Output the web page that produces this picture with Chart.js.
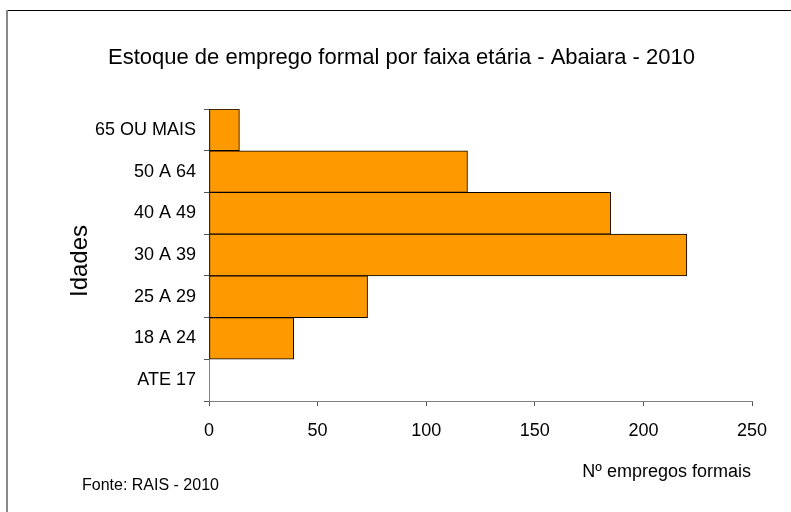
<!DOCTYPE html>
<html>
<head>
<meta charset="utf-8">
<script src="https://cdn.jsdelivr.net/npm/chart.js@4.4.1/dist/chart.umd.min.js"></script>
<style>
  html, body { margin: 0; padding: 0; background: #fff; }
  #wrap { width: 791px; height: 512px; }
</style>
</head>
<body>
<div id="wrap"><canvas id="chart" width="791" height="512"></canvas></div>
<script>
const faixas = ['65 OU MAIS', '50 A 64', '40 A 49', '30 A 39', '25 A 29', '18 A 24', 'ATE 17'];
const empregos = [14, 119, 185, 220, 73, 39, 0];
const xTicks = [0, 50, 100, 150, 200, 250];

const titulo = 'Estoque de emprego formal por faixa etária - Abaiara - 2010';
const tituloX = 'Nº empregos formais';
const tituloY = 'Idades';
const fonte = 'Fonte: RAIS - 2010';

const FONT = '"Liberation Sans", Arial, sans-serif';

// frame + axis titles + source note
const extras = {
  id: 'extras',
  afterDraw(chart) {
    const ctx = chart.ctx;
    const area = chart.chartArea;
    ctx.save();
    ctx.lineWidth = 1;
    ctx.strokeStyle = '#000';
    ctx.beginPath();
    ctx.moveTo(7, 10.5);
    ctx.lineTo(791, 10.5);
    ctx.stroke();
    ctx.strokeStyle = '#888';
    ctx.lineWidth = 2;
    ctx.beginPath();
    ctx.moveTo(7, 10);
    ctx.lineTo(7, 512);
    ctx.stroke();

    ctx.fillStyle = '#000';
    ctx.textBaseline = 'middle';
    ctx.font = '18px ' + FONT;
    ctx.textAlign = 'right';
    ctx.fillText(tituloX, area.right - 1, 472);

    ctx.font = '16px ' + FONT;
    ctx.textAlign = 'left';
    ctx.fillText(fonte, 82, 486);

    ctx.translate(80, (area.top + area.bottom) / 2 + 6);
    ctx.rotate(-Math.PI / 2);
    ctx.font = '24px ' + FONT;
    ctx.textAlign = 'center';
    ctx.fillText(tituloY, 0, 0);
    ctx.restore();
  }
};

new Chart(document.getElementById('chart'), {
  type: 'bar',
  data: {
    labels: faixas,
    datasets: [{
      data: empregos,
      backgroundColor: '#FF9900',
      borderColor: '#000',
      borderWidth: 1,
      borderSkipped: false,
      barPercentage: 1,
      categoryPercentage: 1
    }]
  },
  options: {
    indexAxis: 'y',
    responsive: false,
    animation: false,
    layout: { padding: { left: 51, right: 39, top: 0, bottom: 0 } },
    plugins: {
      legend: { display: false },
      tooltip: { enabled: false },
      title: {
        display: true,
        text: titulo,
        color: '#000',
        font: { family: FONT, size: 22, weight: 'normal', lineHeight: 1.2 },
        padding: { top: 45, bottom: 37.6 }
      }
    },
    scales: {
      x: {
        min: 0,
        max: 250,
        afterBuildTicks(scale) {
          scale.ticks = xTicks.map(v => ({ value: v }));
        },
        afterFit(scale) { scale.height = 111; },
        border: { display: true, color: '#808080', width: 1 },
        grid: { drawOnChartArea: false, drawTicks: true, tickLength: 5, color: '#555' },
        ticks: {
          color: '#000',
          padding: 14,
          maxRotation: 0,
          font: { family: FONT, size: 18 }
        }
      },
      y: {
        afterFit(scale) { scale.width = 158; },
        border: { display: true, color: '#808080', width: 1 },
        grid: { drawOnChartArea: false, drawTicks: true, tickLength: 5, color: '#555', offset: true },
        ticks: {
          color: '#000',
          padding: 8,
          font: { family: FONT, size: 18 }
        }
      }
    }
  },
  plugins: [extras]
});
</script>
</body>
</html>
